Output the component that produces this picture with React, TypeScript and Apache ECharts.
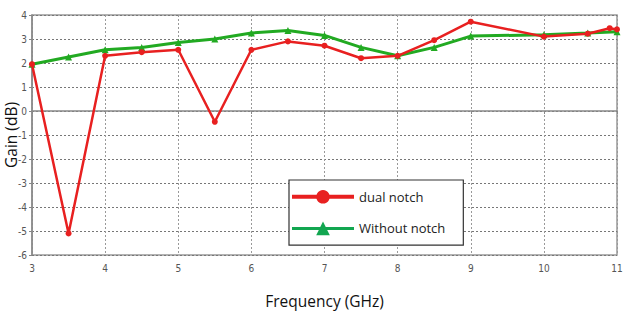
import React, { useEffect, useRef } from "react";
import * as echarts from "echarts";

const dualNotchFreq = [3, 3.5, 4, 4.5, 5, 5.5, 6, 6.5, 7, 7.5, 8, 8.5, 9, 10, 10.6, 10.9, 11];
const dualNotchGain = [1.95, -5.1, 2.3, 2.45, 2.55, -0.45, 2.55, 2.9, 2.72, 2.2, 2.3, 2.95, 3.72, 3.1, 3.22, 3.45, 3.4];
const withoutNotchFreq = [3, 3.5, 4, 4.5, 5, 5.5, 6, 6.5, 7, 7.5, 8, 8.5, 9, 10, 10.6, 11];
const withoutNotchGain = [1.95, 2.25, 2.55, 2.65, 2.85, 3.0, 3.25, 3.35, 3.15, 2.65, 2.3, 2.65, 3.12, 3.18, 3.25, 3.3];

const seriesNames = ["dual notch", "Without notch"];

export default function App() {
  const ref = useRef<HTMLDivElement>(null);
  useEffect(() => {
    if (!ref.current) return;
    const chart = echarts.init(ref.current, null, { renderer: "svg" });
    const tickFont = "'Liberation Sans Narrow', 'DejaVu Sans Condensed', sans-serif";
    chart.setOption({
      animation: false,
      backgroundColor: "#ffffff",
      grid: {
        left: 32,
        right: 8,
        top: 15,
        bottom: 59,
        show: true,
        borderColor: "#999",
        borderWidth: 1.5,
        containLabel: false,
        outerBoundsMode: "none",
      },
      legend: {
        orient: "vertical",
        left: 289,
        top: 180,
        width: 176,
        height: 70,
        padding: [10, 18, 10, 1],
        itemGap: 18,
        itemWidth: 62,
        itemHeight: 17,
        borderColor: "#333",
        borderWidth: 1.2,
        backgroundColor: "#fff",
        textStyle: { fontSize: 13, color: "#222", fontFamily: "'Open Sans', sans-serif" },
        data: [
          { name: seriesNames[0], lineStyle: { width: 4 } },
          { name: seriesNames[1], itemStyle: { color: "#12a650" }, lineStyle: { color: "#12a650", width: 3 } },
        ],
      },
      xAxis: {
        type: "value",
        min: 3,
        max: 11,
        interval: 1,
        name: "Frequency (GHz)",
        nameLocation: "middle",
        nameGap: 38,
        nameMoveOverlap: false,
        nameTextStyle: { fontSize: 15.5, color: "#111", fontFamily: "'Open Sans', sans-serif" },
        axisLine: { lineStyle: { color: "#888", width: 1.5 } },
        axisTick: { show: true, length: 3, lineStyle: { color: "#888" } },
        axisLabel: { fontSize: 10, color: "#555", fontFamily: tickFont, margin: 8 },
        splitLine: { show: true, lineStyle: { color: "#999", type: [2, 2], width: 1 } },
      },
      yAxis: {
        type: "value",
        min: -6,
        max: 4,
        interval: 1,
        name: "Gain (dB)",
        nameLocation: "middle",
        nameGap: 13,
        nameMoveOverlap: false,
        nameRotate: 90,
        nameTextStyle: { fontSize: 15.5, color: "#111", fontFamily: "'Open Sans', sans-serif" },
        axisLine: { show: true, lineStyle: { color: "#888", width: 1.5 } },
        axisTick: { show: true, length: 3, lineStyle: { color: "#888" } },
        axisLabel: { fontSize: 10, color: "#555", fontFamily: tickFont, margin: 5 },
        splitLine: { show: true, lineStyle: { color: "#777", type: [2, 2], width: 1 } },
      },
      series: [
        {
          name: seriesNames[1],
          type: "line",
          data: withoutNotchFreq.map((f, i) => [f, withoutNotchGain[i]]),
          symbol: "triangle",
          symbolSize: 7,
          lineStyle: { color: "#22aa22", width: 3 },
          itemStyle: { color: "#22aa22" },
          z: 2,
        },
        {
          name: seriesNames[0],
          type: "line",
          data: dualNotchFreq.map((f, i) => [f, dualNotchGain[i]]),
          symbol: "circle",
          symbolSize: 6,
          lineStyle: { color: "#e82020", width: 2.5 },
          itemStyle: { color: "#e82020" },
          z: 3,
        },
      ],
    });
    return () => chart.dispose();
  }, []);
  return <div ref={ref} style={{ width: 625, height: 314, position: "absolute", left: 0, top: 0 }} />;
}
